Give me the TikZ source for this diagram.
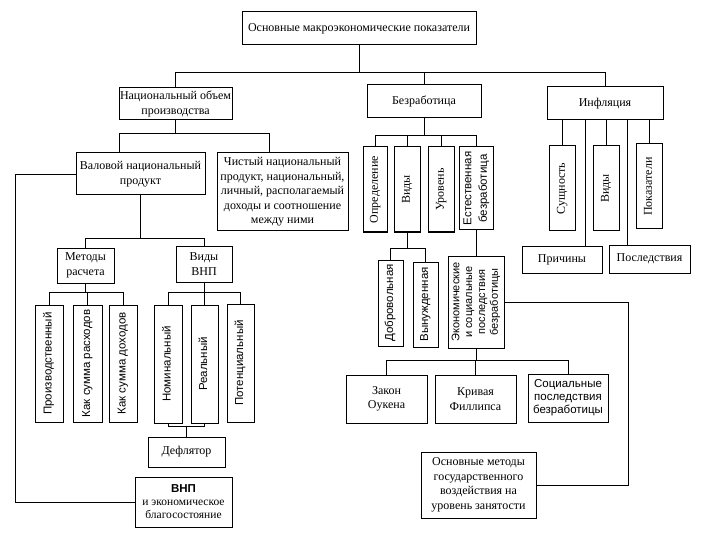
\documentclass[tikz,border=0pt]{standalone}
\usepackage{fontspec}
\setmainfont{Liberation Serif}
\setsansfont{Liberation Sans}
\usetikzlibrary{calc}
\newcommand\fsr{\rmfamily\fontsize{12}{14.5}\selectfont}
\newcommand\fss{\sffamily\fontsize{11.5}{13}\selectfont}
\newcommand\vt[2][1]{\rotatebox{90}{\renewcommand\arraystretch{#1}\begin{tabular}{@{}c@{}}#2\end{tabular}}}
\tikzset{
  box/.style={draw, line width=1pt, inner sep=1pt, align=center, font=\fsr},
  sbox/.style={box, font=\fss},
  conn/.style={line width=0.9pt},
}
\newcommand\bx[7][]{\node[box,#1, minimum width={(#5)-(#3)}, minimum height={(#6)-(#4)}] (#2) at ({((#3)+(#5))/2},{((#4)+(#6))/2}) {#7};}
\begin{document}
\begin{tikzpicture}[x=1pt,y=-1pt]
\useasboundingbox[fill=white] (0,0) rectangle (720,540);
% level 0-1
\bx{top}{242}{12}{476}{45}{Основные макроэкономические показатели}
\bx{nop}{119}{88}{232}{120}{Национальный объем\\производства}
\bx{bez}{367}{85}{481}{118}{Безработица}
\bx{inf}{547}{87}{663}{120}{Инфляция}
% national product
\bx{val}{76}{153}{205}{195}{Валовой национальный\\продукт}
\bx{chnp}{217}{153}{348}{231}{Чистый национальный\\продукт, национальный,\\личный, располагаемый\\доходы и соотношение\\между ними}
\bx{met}{57}{248}{114}{283}{Методы\\расчета}
\bx{vvnp}{176}{246}{232}{282}{Виды\\ВНП}
\bx[sbox]{proizv}{35}{305}{63}{422}{\vt{Производственный}}
\bx[sbox]{rash}{73}{305}{102}{422}{\vt{Как сумма расходов}}
\bx[sbox]{dokh}{109}{305}{137}{422}{\vt{Как сумма доходов}}
\bx[sbox]{nom}{154}{305}{182}{423}{\vt{Номинальный}}
\bx[sbox]{real}{191}{305}{218}{423}{\vt{Реальный}}
\bx[sbox]{pot}{227}{304}{254}{422}{\vt{Потенциальный}}
\bx{defl}{148}{437}{225}{467}{Дефлятор}
\bx[font=\fontsize{11.5}{13}\selectfont]{vnp}{135}{477}{232}{527}{\textbf{\sffamily ВНП}\\и экономическое\\благосостояние}
% unemployment
\bx{opr}{363}{147}{387}{232}{\vt{Определение}}
\bx{vid}{394}{147}{420}{232}{\vt{Виды}}
\bx{urov}{428}{147}{454}{232}{\vt{Уровень}}
\bx[sbox]{est}{459}{147}{493}{230}{\vt[1.2]{Естественная\\безработица}}
\bx[sbox]{dobr}{378}{260}{403}{346}{\vt{Добровольная}}
\bx[sbox]{vyn}{413}{262}{438}{347}{\vt{Вынужденная}}
\bx[sbox,font=\sffamily\fontsize{11}{12.5}\selectfont]{econ}{448}{256}{504}{348}{\vt[1.03]{Экономические\\и социальные\\последствия\\безработицы}}
\bx{zak}{346}{375}{427}{423}{Закон\\Оукена}
\bx{kriv}{435}{375}{516}{423}{Кривая\\Филлипса}
\bx[sbox]{soc}{528}{374}{608}{422}{Социальные\\последствия\\безработицы}
\bx{osn}{421}{452}{536}{518}{Основные методы\\государственного\\воздействия на\\уровень занятости}
% inflation
\bx{sush}{549}{146}{575}{231}{\vt{Сущность}}
\bx{vidi}{593}{146}{619}{231}{\vt{Виды}}
\bx{pok}{636}{144}{662}{229}{\vt{Показатели}}
\bx{prich}{522}{246}{602}{273}{Причины}
\bx{posl}{609}{245}{690}{273}{Последствия}
% connectors
\draw[conn] (top.south) -- ++(0,27) coordinate (j1);
\draw[conn] (nop.north) |- (j1) -| (inf.north);
\draw[conn] (bez.north) -- (bez.north |- j1);
\coordinate (vt1) at ($(val.north west)!0.34!(val.north east)$);
\coordinate (ct1) at ($(chnp.north west)!0.40!(chnp.north east)$);
\draw[conn] (nop.south) -- ++(0,13) coordinate (j2);
\draw[conn] (vt1) |- (j2) -| (ct1);
\draw[conn] (val.south) -- ++(0,43) coordinate (j3);
\draw[conn] (met.north) |- (j3) -| (vvnp.north);
\draw[conn] (met.south) -- ++(0,9) coordinate (j4);
\draw[conn] (proizv.north) |- (j4) -| (dokh.north);
\draw[conn] (rash.north) -- (rash.north |- j4);
\draw[conn] (vvnp.south) -- ++(0,10) coordinate (j5);
\draw[conn] (nom.north) |- (j5) -| (pot.north);
\draw[conn] (real.north) -- (real.north |- j5);
\draw[conn] (defl.north) -- ++(0,-10) coordinate (j6);
\draw[conn] (nom.south) |- (j6) -| (real.south);
\draw[conn] (val.west) -- ++(-60,0) |- (vnp.west);
\draw[conn] (bez.south) -- ++(0,17) coordinate (j7);
\draw[conn] (opr.north) |- (j7) -| (est.north);
\draw[conn] (vid.north) -- (vid.north |- j7);
\draw[conn] (urov.north) -- (urov.north |- j7);
\draw[conn] (vid.south) -- ++(0,16) coordinate (j8);
\draw[conn] (dobr.north) |- (j8) -| (vyn.north);
\draw[conn] (est.south) -- (econ.north);
\draw[conn] (econ.east) -| ($(osn.east)+(92,0)$) -- (osn.east);
\draw[conn] (econ.south) -- ++(0,12) coordinate (j9);
\draw[conn] (zak.north) |- (j9) -| (soc.north);
\draw[conn] (kriv.north) -- (kriv.north |- j9);
\draw[conn] (sush.north) -- (sush.north |- inf.south);
\draw[conn] (vidi.north) -- (vidi.north |- inf.south);
\draw[conn] (pok.north) -- (pok.north |- inf.south);
\coordinate (pc) at ($(prich.north west)!0.79!(prich.north east)$);
\draw[conn] (pc) -- (pc |- inf.south);
\coordinate (qc) at ($(posl.north west)!0.23!(posl.north east)$);
\draw[conn] (qc) -- (qc |- inf.south);
\end{tikzpicture}
\end{document}
